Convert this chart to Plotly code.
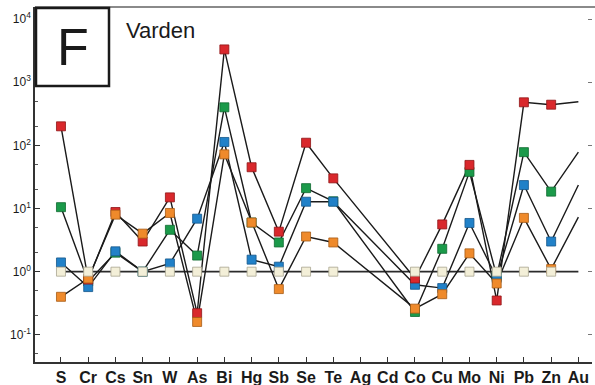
import plotly.graph_objects as go

categories = ["S", "Cr", "Cs", "Sn", "W", "As", "Bi", "Hg", "Sb", "Se", "Te",
              "Ag", "Cd", "Co", "Cu", "Mo", "Ni", "Pb", "Zn", "Au"]

red    = [200, 0.75, 8.8, 3.0, 15, 0.22, 3300, 45, 4.3, 110, 30,
          None, None, 0.78, 5.6, 49, 0.35, 480, 440, 490]
green  = [10.5, 0.7, 2.0, 1.0, 4.6, 1.8, 400, 6.0, 2.9, 21, 13,
          None, None, 0.23, 2.3, 38, 0.85, 78, 18.5, 78]
blue   = [1.4, 0.57, 2.1, 1.0, 1.35, 6.9, 113, 1.55, 1.2, 12.8, 12.8,
          None, None, 0.62, 0.55, 5.9, 0.8, 23.5, 3.0, 23.5]
orange = [0.4, 0.78, 8.0, 4.0, 8.5, 0.16, 72, 6.0, 0.53, 3.6, 2.9,
          None, None, 0.26, 0.44, 1.95, 0.65, 7.1, 1.1, 7.3]
cream  = [1.0] * 20
cream_markers = [True] * 11 + [False, False] + [True] * 6 + [False]

series = [
    ("green", green, "#1b9a4a", "#0f6a30"),
    ("blue", blue, "#2181c8", "#15578a"),
    ("red", red, "#d9282c", "#8f1517"),
    ("orange", orange, "#ef8a2b", "#a65a14"),
]

fig = go.Figure()

# lines first
fig.add_trace(go.Scatter(x=categories, y=cream, mode="lines",
                         line=dict(color="#2b2b2b", width=1.8),
                         showlegend=False, hoverinfo="skip"))
for name, vals, col, edge in series:
    fig.add_trace(go.Scatter(x=categories, y=vals, mode="lines", connectgaps=True,
                             line=dict(color="#1a1a1a", width=1.4),
                             showlegend=False, hoverinfo="skip"))

# markers (Au has no marker)
for name, vals, col, edge in series:
    fig.add_trace(go.Scatter(x=categories[:-1], y=vals[:-1], mode="markers",
                             marker=dict(symbol="square", size=9, color=col,
                                         line=dict(color=edge, width=0.8)),
                             showlegend=False, name=name))
cx = [c for c, m in zip(categories, cream_markers) if m]
cy = [v for v, m in zip(cream, cream_markers) if m]
fig.add_trace(go.Scatter(x=cx, y=cy, mode="markers",
                         marker=dict(symbol="square", size=9, color="#f3efd8",
                                     line=dict(color="#a8a590", width=0.8)),
                         showlegend=False, name="cream"))

tickvals = [0.1, 1, 10, 100, 1000, 10000]
ticktext = ["10<sup>-1</sup>", "10<sup>0</sup>", "10<sup>1</sup>",
            "10<sup>2</sup>", "10<sup>3</sup>", "10<sup>4</sup>"]

fig.update_layout(
    width=595, height=385,
    margin=dict(l=35, r=3, t=7, b=23, autoexpand=False),
    paper_bgcolor="white", plot_bgcolor="white",
    font=dict(family="Liberation Sans, Arial, sans-serif", color="#1a1a1a"),
    xaxis=dict(
        type="category", categoryorder="array", categoryarray=categories,
        range=[-0.954, 19.5], automargin=False,
        showline=True, linecolor="#333", linewidth=1.5, mirror=False,
        ticks="inside", ticklen=5, tickcolor="#333", tickwidth=1,
        tickfont=dict(size=16, family="Liberation Sans, Arial", weight="bold"),
        showgrid=False, zeroline=False,
    ),
    yaxis=dict(
        type="log", range=[-1.43, 4.19], automargin=False,
        tickvals=tickvals, ticktext=ticktext,
        showline=True, linecolor="#333", linewidth=1.5,
        ticks="inside", ticklen=5, tickcolor="#333",
        minor=dict(ticks="inside", ticklen=3, tickcolor="#555", showgrid=False),
        tickfont=dict(size=12),
        showgrid=False, zeroline=False,
    ),
    yaxis2=dict(
        type="log", range=[-1.43, 4.19], overlaying="y", side="right",
        tickvals=tickvals, showticklabels=False, automargin=False,
        ticks="inside", ticklen=4, tickcolor="#777",
        showline=False, showgrid=False, zeroline=False,
    ),
    shapes=[
        dict(type="line", xref="paper", yref="paper", x0=0, x1=1.01, y0=1, y1=1,
             line=dict(color="#8a8a8a", width=2)),
        dict(type="rect", xref="paper", yref="paper",
             x0=(36 - 35) / 557, x1=(109 - 35) / 557,
             y0=(362 - 86) / 355, y1=(362 - 8) / 355,
             line=dict(color="#1a1a1a", width=2.5), fillcolor="white"),
    ],
    annotations=[
        dict(text="F", xref="paper", yref="paper",
             x=(72.5 - 35) / 557, y=(362 - 47) / 355, showarrow=False,
             font=dict(size=52, family="Liberation Sans, Arial", color="#1a1a1a"),
             xanchor="center", yanchor="middle"),
        dict(text="Varden", xref="paper", yref="paper",
             x=(124 - 35) / 557, y=(362 - 30) / 355, showarrow=False,
             font=dict(size=22, family="Liberation Sans, Arial", color="#1a1a1a"),
             xanchor="left", yanchor="middle"),
    ],
)
# dummy so yaxis2 renders
fig.add_trace(go.Scatter(x=[categories[0]], y=[1], yaxis="y2", mode="markers",
                         marker=dict(opacity=0), showlegend=False, hoverinfo="skip"))

fig.write_html("out.html")
